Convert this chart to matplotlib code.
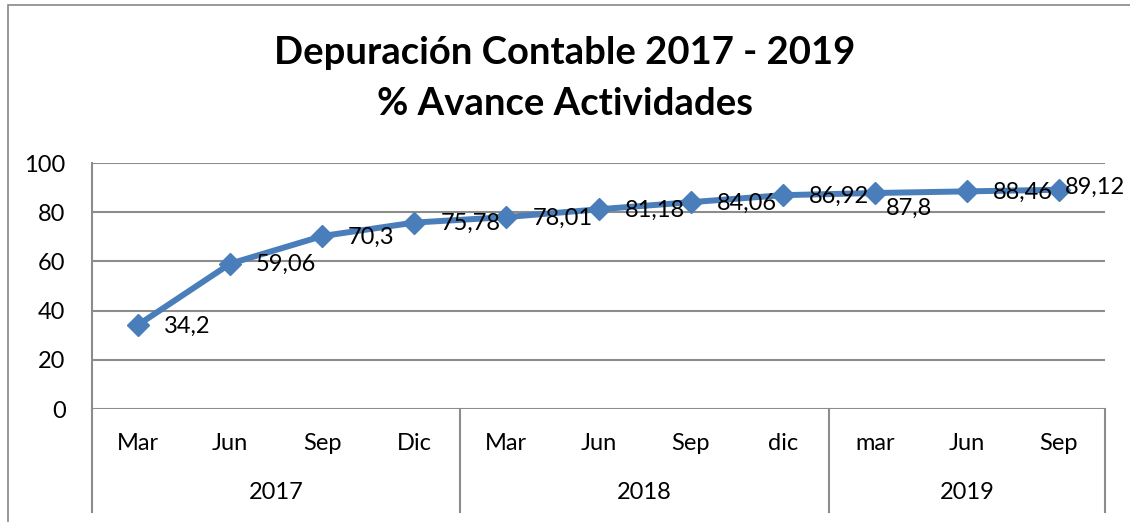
import matplotlib.pyplot as plt
from matplotlib.patches import Rectangle
from matplotlib.transforms import blended_transform_factory

plt.rcParams['font.family'] = ['Lato', 'DejaVu Sans']

# Data
months = ['Mar', 'Jun', 'Sep', 'Dic', 'Mar', 'Jun', 'Sep', 'dic', 'mar', 'Jun', 'Sep']
years = ['2017', '2018', '2019']
months_per_year = [4, 4, 3]
avance = [34.2, 59.06, 70.3, 75.78, 78.01, 81.18, 84.06, 86.92, 87.8, 88.46, 89.12]

BLUE = '#4A7EBB'
GRID = '#8c8c8c'
PX = 0.72  # points per pixel at dpi 100
FS = 17

fig = plt.figure(figsize=(11.3, 5.22), dpi=100)
ax = fig.add_axes([92 / 1130, 1 - 409 / 522, (1105 - 92) / 1130, (409 - 163) / 522])

# chart frame
fig.patches.append(Rectangle((8 / 1130, -0.1), 1.2, 1.1 - 5 / 522, transform=fig.transFigure,
                             fill=False, edgecolor='#888888', linewidth=1.2))

x = list(range(len(avance)))
ax.plot(x, avance, color=BLUE, linewidth=4.3, solid_joinstyle='round',
        solid_capstyle='round', marker='D', markersize=11.5, zorder=3)

# data labels, right of each point (a few moved like Excel did); offsets in px
nudge = {8: (11, -15), 10: (6, 2)}
for i, v in enumerate(avance):
    dx, dy = nudge.get(i, (26, -1))
    ax.annotate(f'{v:g}'.replace('.', ','), (i, v), xytext=(dx * PX, dy * PX),
                textcoords='offset points', ha='left', va='center', fontsize=FS,
                color='black', annotation_clip=False, zorder=5)

ax.set_xlim(-0.5, len(avance) - 0.5)
ax.set_ylim(0, 100)
ax.set_yticks(range(0, 101, 20))
ax.tick_params(axis='y', length=0, pad=19, labelsize=FS)
ax.set_xticks([])
ax.grid(axis='y', color=GRID, linewidth=1.5)
ax.set_axisbelow(True)
for s in ('top', 'right', 'bottom'):
    ax.spines[s].set_visible(False)
ax.spines['left'].set_color(GRID)
ax.spines['left'].set_linewidth(1.5)

# two-level category axis
trans = blended_transform_factory(ax.transData, ax.transAxes)
for i, m in enumerate(months):
    ax.text(i, -0.142, m, transform=trans, ha='center', va='center', fontsize=FS)

start = 0
seps = [-0.5]
for yr, cnt in zip(years, months_per_year):
    ax.text(start + (cnt - 1) / 2, -0.341, yr, transform=trans, ha='center', va='center',
            fontsize=FS)
    start += cnt
    seps.append(start - 0.5)
for sx in seps:
    ax.plot([sx, sx], [0, -0.419], transform=trans, color=GRID, linewidth=1.5, clip_on=False)

fig.text(0.5, 1 - 53 / 522, 'Depuración Contable 2017 - 2019', ha='center', va='center',
         fontsize=27.5, fontweight='bold')
fig.text(0.5, 1 - 104 / 522, '% Avance Actividades', ha='center', va='center',
         fontsize=27.5, fontweight='bold')

fig.savefig('out.png', dpi=100)
